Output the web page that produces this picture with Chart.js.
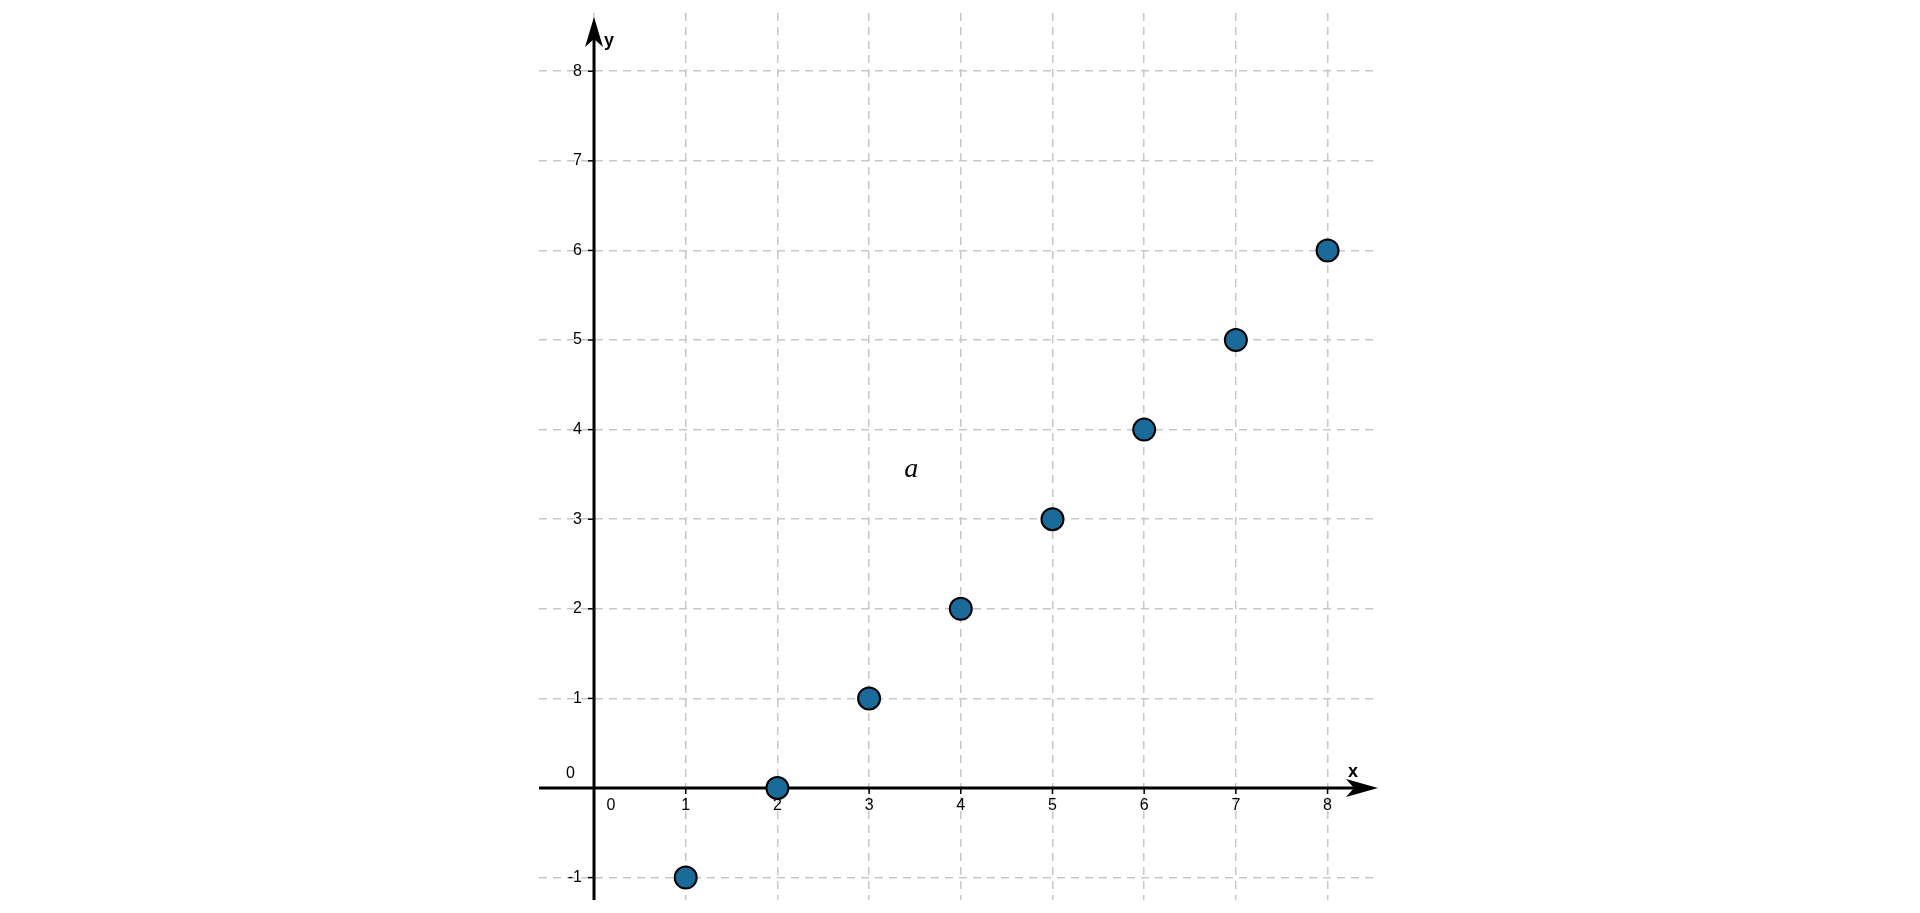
<!DOCTYPE html>
<html><head><meta charset="utf-8">
<script src="https://cdn.jsdelivr.net/npm/chart.js@4"></script>
<style>html,body{margin:0;padding:0;background:#fff}#w{width:1920px;height:913px}</style>
</head><body><div id="w"><canvas id="c"></canvas></div>
<script>
const xValues=[1,2,3,4,5,6,7,8];
const yValues=[-1,0,1,2,3,4,5,6];
const xTickLabels=['0','1','2','3','4','5','6','7','8'];
const yTickLabels=['-1','0','1','2','3','4','5','6','7','8'];
const pointLabel={text:'a',x:3.46,y:3.55};

const axesPlugin={id:'axes',beforeDatasetsDraw(ch){
 const c=ch.ctx,xs=ch.scales.x,ys=ch.scales.y,a=ch.chartArea;
 const ox=xs.getPixelForValue(0),oy=ys.getPixelForValue(0);
 c.save();c.setLineDash([]);c.strokeStyle='#000';c.fillStyle='#000';c.lineWidth=3;
 c.beginPath();c.moveTo(a.left,oy);c.lineTo(a.right-10,oy);c.moveTo(ox,a.bottom);c.lineTo(ox,a.top+12);c.stroke();
 c.beginPath();c.moveTo(a.right,oy);c.lineTo(a.right-32,oy-9);c.lineTo(a.right-24,oy);c.lineTo(a.right-32,oy+9);c.closePath();c.fill();
 c.beginPath();c.moveTo(ox,a.top+4);c.lineTo(ox-9,a.top+34);c.lineTo(ox,a.top+26);c.lineTo(ox+9,a.top+34);c.closePath();c.fill();
 c.lineWidth=1.5;c.font='16px "Liberation Sans",Arial';
 c.textAlign='center';c.textBaseline='top';
 xTickLabels.forEach(t=>{const v=+t,p=xs.getPixelForValue(v);
  if(v!==0){c.beginPath();c.moveTo(p,oy);c.lineTo(p,oy+6);c.stroke();c.fillText(t,p,oy+10);} else c.fillText(t,p+17,oy+10);});
 c.textAlign='right';c.textBaseline='middle';
 yTickLabels.forEach(t=>{const v=+t,p=ys.getPixelForValue(v);
  if(v!==0){c.beginPath();c.moveTo(ox-6,p);c.lineTo(ox,p);c.stroke();c.fillText(t,ox-12,p);} else c.fillText(t,ox-19,p-14);});
 c.font='bold 18px "Liberation Sans",Arial';c.textAlign='left';
 c.fillText('x',a.right-30,oy-16);c.fillText('y',ox+10,a.top+28);
 c.font='italic 28px "Liberation Serif","DejaVu Serif",serif';c.textAlign='center';
 c.fillText(pointLabel.text,xs.getPixelForValue(pointLabel.x),ys.getPixelForValue(pointLabel.y));
 c.restore();}};

new Chart(document.getElementById('c'),{type:'scatter',
 data:{datasets:[{data:xValues.map((x,i)=>({x,y:yValues[i]})),backgroundColor:'#1a6a9a',borderColor:'#000',borderWidth:2,pointRadius:11,pointHoverRadius:11}]},
 options:{responsive:true,maintainAspectRatio:false,animation:false,events:[],
  layout:{padding:{left:539,right:542,top:-12,bottom:-10}},
  plugins:{legend:{display:false},tooltip:{enabled:false}},
  scales:{
   x:{type:'linear',min:-0.6,max:8.55,afterBuildTicks(s){s.ticks=[0,1,2,3,4,5,6,7,8].map(v=>({value:v}));},
     ticks:{display:false},border:{display:false,dash:[8,6]},grid:{color:'#c8c8c8',lineWidth:1.5,drawTicks:false}},
   y:{type:'linear',min:-1.25,max:8.65,afterBuildTicks(s){s.ticks=[-1,0,1,2,3,4,5,6,7,8].map(v=>({value:v}));},
     ticks:{display:false},border:{display:false,dash:[8,6]},grid:{color:'#c8c8c8',lineWidth:1.5,drawTicks:false}}
  }},
 plugins:[axesPlugin]
});
</script></body></html>
